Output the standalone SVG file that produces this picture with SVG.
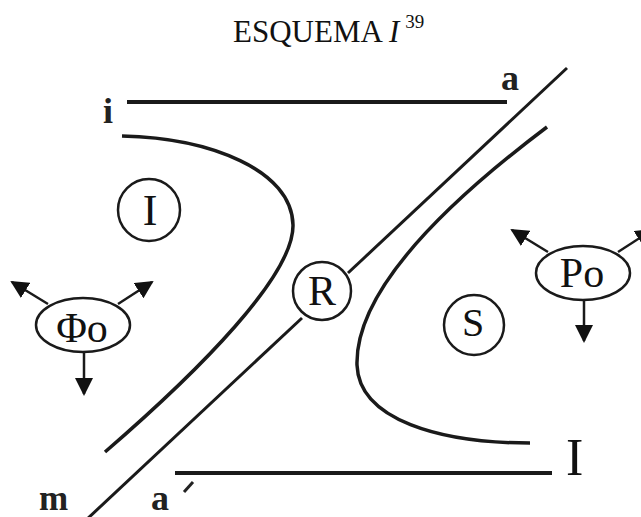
<svg xmlns="http://www.w3.org/2000/svg" width="641" height="517" viewBox="0 0 641 517">
<defs>
<marker id="ah" markerUnits="userSpaceOnUse" markerWidth="18" markerHeight="18" viewBox="0 0 18 18" refX="16" refY="9" orient="auto">
<path d="M0,0 L18,9 L0,18 Z" fill="#111"/>
</marker>
</defs>
<style>
.ln{fill:none;stroke:#1a1a1a;stroke-linecap:butt}
.h{stroke-width:4}
.d{stroke-width:3}
.c{stroke-width:3.5}
.circ{fill:none;stroke:#1a1a1a;stroke-width:2.5}
.ar{fill:none;stroke:#1a1a1a;stroke-width:2.5;marker-end:url(#ah)}
.t{font-family:"Liberation Serif",serif;fill:#111}
.lb{font-family:"Liberation Serif",serif;font-weight:bold;fill:#222}
</style>
<rect width="641" height="517" fill="#fff"/>
<text class="t" x="233" y="42" font-size="31">ESQUEMA <tspan font-style="italic">I</tspan><tspan font-size="19" dx="6" dy="-14">39</tspan></text>
<g id="connectors">
<line class="ln h" x1="127" y1="102" x2="507" y2="102"/>
<line class="ln h" x1="175" y1="473" x2="552" y2="473"/>
<line class="ln d" x1="567" y1="68" x2="348" y2="273"/>
<line class="ln d" x1="302" y1="318" x2="85" y2="521"/>
<path class="ln c" d="M122,136 C210,138 292,170 293,225 C294,275 200,370 105,452"/>
<path class="ln c" d="M547,127 C450,200 355,290 357,365 C359,420 440,443 530,443"/>
</g>
<g id="label-i"><text class="lb" x="103" y="123" font-size="36">i</text></g>
<g id="label-a"><text class="lb" x="501" y="90" font-size="36">a</text></g>
<g id="label-m"><text class="lb" x="39" y="510" font-size="35">m</text></g>
<g id="label-a-prime"><text class="lb" x="151" y="510" font-size="36">a</text><path d="M184,492 L193,482" stroke="#222" stroke-width="3" fill="none"/></g>
<g id="label-I-bottom"><text class="t" x="566" y="475" font-size="52">I</text></g>
<g id="node-I"><circle class="circ" cx="149" cy="210" r="31"/><text class="t" x="150" y="225" font-size="44" text-anchor="middle">I</text></g>
<g id="node-R"><circle class="circ" cx="322" cy="291" r="29"/><text class="t" x="322" y="305" font-size="42" text-anchor="middle">R</text></g>
<g id="node-S"><circle class="circ" cx="474" cy="325" r="30"/><text class="t" x="473" y="336" font-size="40" text-anchor="middle">S</text></g>
<g id="node-Phi0">
<ellipse class="circ" cx="83" cy="325" rx="47" ry="27"/>
<text class="t" x="82" y="342" font-size="42" text-anchor="middle">Φo</text>
<line class="ar" x1="48" y1="304" x2="12" y2="282"/>
<line class="ar" x1="118" y1="304" x2="152" y2="282"/>
<line class="ar" x1="84" y1="352" x2="84" y2="394"/>
</g>
<g id="node-P0">
<ellipse class="circ" cx="583" cy="273" rx="47" ry="27"/>
<text class="t" x="582" y="287" font-size="42" text-anchor="middle">Po</text>
<line class="ar" x1="548" y1="252" x2="512" y2="230"/>
<line class="ar" x1="618" y1="252" x2="652" y2="230"/>
<line class="ar" x1="584" y1="300" x2="584" y2="341"/>
</g>
</svg>
